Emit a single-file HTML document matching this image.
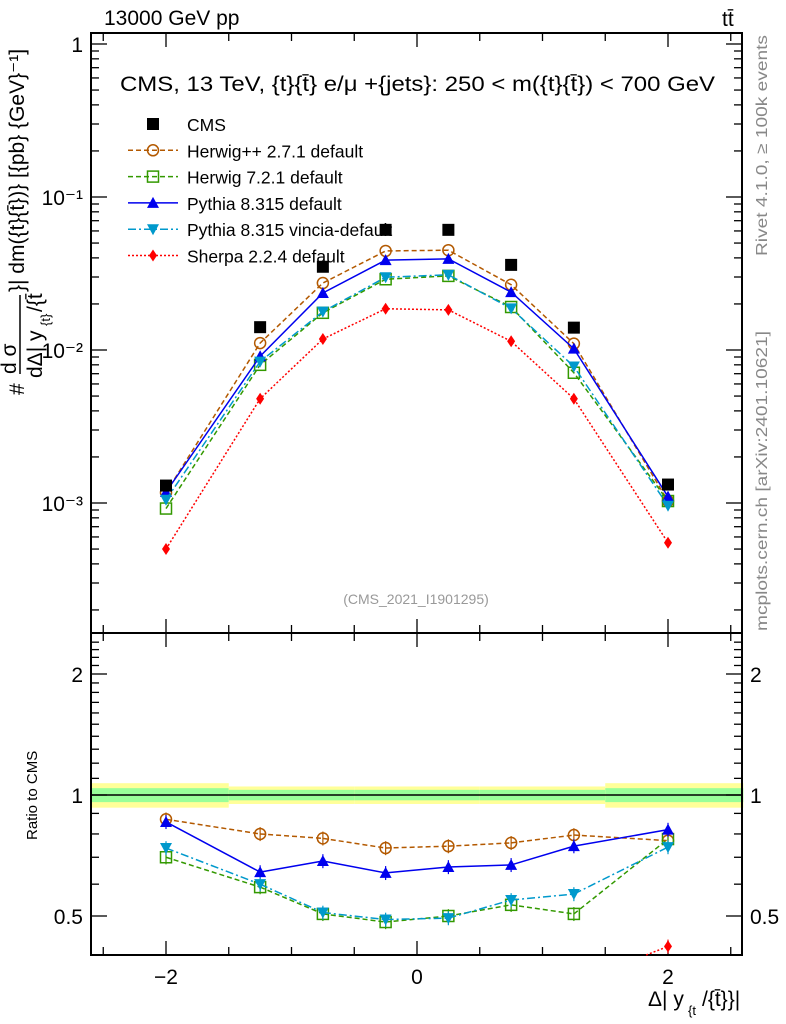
<!DOCTYPE html>
<html><head><meta charset="utf-8"><style>
html,body{margin:0;padding:0;background:#fff;overflow:hidden;width:786px;height:1024px;}
svg{display:block;font-family:"Liberation Sans",sans-serif;}
</style></head><body>
<svg id="c" width="786" height="1024" viewBox="0 0 786 1024" xmlns="http://www.w3.org/2000/svg">
<g id="bands"></g>
<g id="axes"></g>
<g id="series"></g>
<text x="104" y="25" font-size="21">13000 GeV pp</text>
<text x="722" y="26" font-size="21">tt̄</text>
<text x="120" y="91" font-size="21.5" textLength="595" lengthAdjust="spacingAndGlyphs">CMS, 13 TeV, {t}{t̄} e/μ +{jets}: 250 &lt; m({t}{t̄}) &lt; 700 GeV</text>
<text x="416" y="604" font-size="14" fill="#999" text-anchor="middle">(CMS_2021_I1901295)</text>
<text transform="translate(767,256) rotate(-90)" font-size="16" fill="#888" textLength="221" lengthAdjust="spacingAndGlyphs">Rivet 4.1.0, ≥ 100k events</text>
<text transform="translate(767,631) rotate(-90)" font-size="16" fill="#888" textLength="300" lengthAdjust="spacingAndGlyphs">mcplots.cern.ch [arXiv:2401.10621]</text>
<g font-size="21">
<text transform="translate(24,395) rotate(-90)">#</text>
<line x1="20" y1="374" x2="20" y2="295" stroke="#000" stroke-width="1.5"/>
<text transform="translate(16,374) rotate(-90)">d σ</text>
<text transform="translate(42,378) rotate(-90)">dΔ| y</text>
<text transform="translate(50,326) rotate(-90)" font-size="13">{t}</text>
<text transform="translate(42,312) rotate(-90)">/{t̄</text>
<text transform="translate(24,292) rotate(-90)">}| dm({t}{t̄})} [{pb} {GeV}⁻¹]</text>
</g>
<text transform="translate(37,840) rotate(-90)" font-size="15">Ratio to CMS</text>
<text x="648" y="1006" font-size="21">Δ| y</text>
<text x="688" y="1015" font-size="13">{t</text>
<text x="702" y="1006" font-size="21">/{t̄}}|</text>
<g id="legend"></g>
</svg>
<script>
const xCenters = [-2, -1.25, -0.75, -0.25, 0.25, 0.75, 1.25, 2];
const binEdges = [-2.6, -1.5, -1, -0.5, 0, 0.5, 1, 1.5, 2.6];
const cmsVals = [0.0013, 0.0141, 0.035, 0.061, 0.061, 0.036, 0.014, 0.00132];
const herwigppVals = [0.00117, 0.0111, 0.0274, 0.0444, 0.0449, 0.0267, 0.011, 0.00103];
const herwig7Vals = [0.00092, 0.008, 0.0175, 0.029, 0.0305, 0.0191, 0.0071, 0.00103];
const pythiaVals = [0.00118, 0.0091, 0.0236, 0.0387, 0.0394, 0.0239, 0.0102, 0.0011];
const vinciaVals = [0.00105, 0.0084, 0.0178, 0.0299, 0.031, 0.0187, 0.0078, 0.00096];
const sherpaVals = [0.0005, 0.0048, 0.0118, 0.0186, 0.0183, 0.0114, 0.0048, 0.00055];
const herwigppRatio = [0.87, 0.80, 0.78, 0.738, 0.746, 0.76, 0.795, 0.77];
const herwig7Ratio = [0.70, 0.59, 0.506, 0.483, 0.50, 0.533, 0.506, 0.777];
const pythiaRatio = [0.857, 0.643, 0.685, 0.64, 0.662, 0.67, 0.746, 0.82];
const vinciaRatio = [0.738, 0.60, 0.51, 0.49, 0.494, 0.548, 0.567, 0.742];
const sherpaRatio = [0.38, 0.34, 0.34, 0.3, 0.3, 0.32, 0.34, 0.42];
const bandInner = [0.04, 0.03, 0.03, 0.03, 0.03, 0.03, 0.03, 0.04];
const bandOuter = [0.07, 0.05, 0.05, 0.05, 0.05, 0.05, 0.05, 0.07];
const mainTicks = [1, 0.1, 0.01, 0.001];
const mainTickLabels = ["1", "10⁻¹", "10⁻²", "10⁻³"];
const ratioTicks = [2, 1, 0.5];
const ratioTickLabels = ["2", "1", "0.5"];
const xTicks = [-2, 0, 2];
const xTickLabels = ["−2", "0", "2"];

const L=91, R=742, T=33, MB=633, RB=955;
const X = v => 417 + v*125.5;
const Y = v => 44 - Math.log10(v)*153;
const YR = v => 795 - Math.log2(v)*121;
const NS="http://www.w3.org/2000/svg";
function mk(parent, tag, attrs){const e=document.createElementNS(NS,tag);for(const k in attrs)e.setAttribute(k,attrs[k]);parent.appendChild(e);return e;}
const ax=document.getElementById('axes'), se=document.getElementById('series'), bd=document.getElementById('bands'), lg=document.getElementById('legend');

for(let i=0;i<xCenters.length;i++){
  const x1=X(binEdges[i]), x2=X(binEdges[i+1]);
  const y=mk(bd,'rect',{x:x1,y:YR(1+bandOuter[i]),width:x2-x1,height:YR(1-bandOuter[i])-YR(1+bandOuter[i]),fill:'#ffff99'});
  
  
  const g=mk(bd,'rect',{x:x1,y:YR(1+bandInner[i]),width:x2-x1,height:YR(1-bandInner[i])-YR(1+bandInner[i]),fill:'#99ff99'});
  
  
}
[[T,MB],[MB,RB]].forEach(([a,b])=>mk(ax,'rect',{x:L,y:a,width:R-L,height:b-a,fill:'none',stroke:'#000','stroke-width':2}));
mk(ax,'line',{x1:L,x2:R,y1:YR(1),y2:YR(1),stroke:'#000','stroke-width':1.5});
for(let v=-2.5;v<=2.51;v+=0.5){
  const major=Math.abs(v-Math.round(v/2)*2)<1e-6, len=major?14:8;
  [T,MB].forEach(t=>mk(ax,'line',{x1:X(v),x2:X(v),y1:t,y2:t+len,stroke:'#000','stroke-width':1.3}));
  [MB,RB].forEach(b=>mk(ax,'line',{x1:X(v),x2:X(v),y1:b,y2:b-len,stroke:'#000','stroke-width':1.3}));
}
xTicks.forEach((v,i)=>{const t=mk(ax,'text',{x:X(v),y:984,'font-size':21,'text-anchor':'middle'});t.textContent=xTickLabels[i];});
for(let d=-4;d<=0;d++)for(let m=1;m<=9;m++){
  const v=m*Math.pow(10,d); const y=Y(v); if(y<T||y>MB)continue;
  const len=m===1?16:8;
  mk(ax,'line',{x1:L,x2:L+len,y1:y,y2:y,stroke:'#000','stroke-width':1.3});
  mk(ax,'line',{x1:R,x2:R-len,y1:y,y2:y,stroke:'#000','stroke-width':1.3});
}
mainTicks.forEach((v,i)=>{const t=mk(ax,'text',{x:83,y:Y(v)+8,'font-size':21,'text-anchor':'end'});t.textContent=mainTickLabels[i];});
for(let v=0.4;v<=2.5;v+=0.1){
  const y=YR(v); if(y<MB||y>RB)continue;
  const major=[0.5,1,2].some(m=>Math.abs(m-v)<1e-6), len=major?16:8;
  mk(ax,'line',{x1:L,x2:L+len,y1:y,y2:y,stroke:'#000','stroke-width':1.3});
  mk(ax,'line',{x1:R,x2:R-len,y1:y,y2:y,stroke:'#000','stroke-width':1.3});
}
ratioTicks.forEach((v,i)=>{
  const t=mk(ax,'text',{x:83,y:YR(v)+8,'font-size':21,'text-anchor':'end'});t.textContent=ratioTickLabels[i];
  const t2=mk(ax,'text',{x:750,y:YR(v)+8,'font-size':21});t2.textContent=ratioTickLabels[i];
});

function marker(g,type,x,y,col){
  if(type==='sq')return mk(g,'rect',{x:x-6,y:y-6,width:12,height:12,fill:'#000'});
  if(type==='circ')return mk(g,'circle',{cx:x,cy:y,r:5.5,fill:'none',stroke:col,'stroke-width':1.5});
  if(type==='osq')return mk(g,'rect',{x:x-5.5,y:y-5.5,width:11,height:11,fill:'none',stroke:col,'stroke-width':1.5});
  if(type==='tri')return mk(g,'polygon',{points:`${x},${y-6} ${x-6},${y+5} ${x+6},${y+5}`,fill:col});
  if(type==='itri')return mk(g,'polygon',{points:`${x},${y+6} ${x-6},${y-5} ${x+6},${y-5}`,fill:col});
  if(type==='dia')return mk(g,'polygon',{points:`${x},${y-6} ${x-4},${y} ${x},${y+6} ${x+4},${y}`,fill:col});
}
// clip a segment to the ratio panel vertically
function clipSeg(x1,y1,x2,y2){
  const lo=MB, hi=RB;
  if((y1>hi&&y2>hi)||(y1<lo&&y2<lo))return null;
  const f=(yb)=>[x1+(x2-x1)*(yb-y1)/(y2-y1),yb];
  let a=[x1,y1], b=[x2,y2];
  if(y1>hi)a=f(hi); else if(y1<lo)a=f(lo);
  if(y2>hi)b=f(hi); else if(y2<lo)b=f(lo);
  return [a,b];
}
const defs=[
 {name:'herwigpp',label:'Herwig++ 2.7.1 default',vals:herwigppVals,ratio:herwigppRatio,col:'#b35900',dash:'5,3',m:'circ'},
 {name:'herwig7',label:'Herwig 7.2.1 default',vals:herwig7Vals,ratio:herwig7Ratio,col:'#339900',dash:'5,3',m:'osq'},
 {name:'pythia',label:'Pythia 8.315 default',vals:pythiaVals,ratio:pythiaRatio,col:'#0000ee',dash:'',m:'tri'},
 {name:'vincia',label:'Pythia 8.315 vincia-default',vals:vinciaVals,ratio:vinciaRatio,col:'#0099cc',dash:'8,3,2,3',m:'itri'},
 {name:'sherpa',label:'Sherpa 2.2.4 default',vals:sherpaVals,ratio:sherpaRatio,col:'#ff0000',dash:'2,2',m:'dia'}
];
const ly0=124, ldy=26.3;
{marker(lg,'sq',153,ly0,'#000');const t=mk(lg,'text',{x:187,y:ly0+7,'font-size':17.5});t.textContent='CMS';}
defs.forEach((d,i)=>{
  const y=ly0+ldy*(i+1);
  mk(lg,'line',{x1:128,x2:178,y1:y,y2:y,stroke:d.col,'stroke-width':1.5,'stroke-dasharray':d.dash});
  marker(lg,d.m,153,y,d.col);
  const t=mk(lg,'text',{x:187,y:y+7,'font-size':17.5});t.textContent=d.label;
  
  
});
defs.forEach(d=>{
  const g=mk(se,'g',{});
  
  
  mk(g,'polyline',{points:xCenters.map((x,i)=>X(x)+','+Y(d.vals[i])).join(' '),fill:'none',stroke:d.col,'stroke-width':1.5,'stroke-dasharray':d.dash});
  xCenters.forEach((x,i)=>{const p=marker(g,d.m,X(x),Y(d.vals[i]),d.col);
    
    });
  const gr=mk(se,'g',{});
  
  
  for(let i=0;i<xCenters.length-1;i++){
    const s=clipSeg(X(xCenters[i]),YR(d.ratio[i]),X(xCenters[i+1]),YR(d.ratio[i+1]));
    if(s)mk(gr,'line',{x1:s[0][0],y1:s[0][1],x2:s[1][0],y2:s[1][1],stroke:d.col,'stroke-width':1.5,'stroke-dasharray':d.dash});
  }
  xCenters.forEach((x,i)=>{
    const yy=YR(d.ratio[i]); if(yy>RB-4||yy<MB+4)return;
    mk(gr,'line',{x1:X(x),x2:X(x),y1:YR(d.ratio[i]*1.04),y2:Math.min(RB,YR(d.ratio[i]*0.96)),stroke:d.col,'stroke-width':1.2});
    const p=marker(gr,d.m,X(x),yy,d.col);
    
    });
});
xCenters.forEach((x,i)=>{const p=marker(se,'sq',X(x),Y(cmsVals[i]),'#000');
  
  });
</script>
</body></html>
